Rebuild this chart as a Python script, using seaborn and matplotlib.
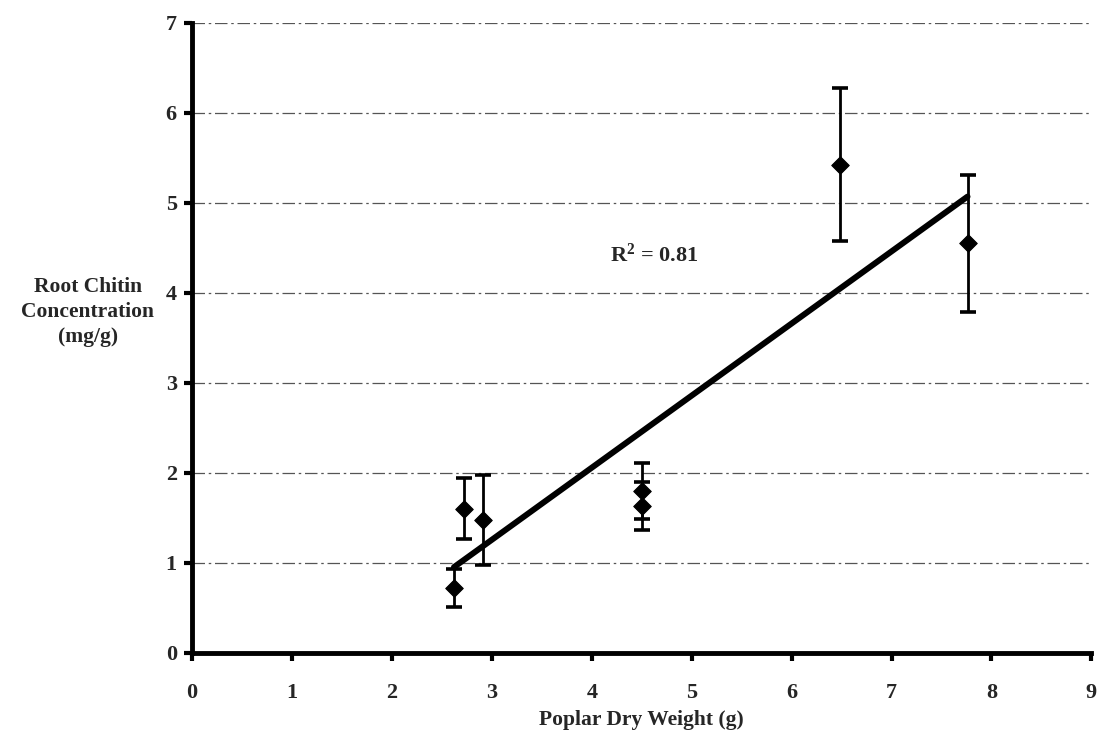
import numpy as np
import pandas as pd
import matplotlib
matplotlib.use("Agg")
import matplotlib.pyplot as plt
import seaborn as sns

# Poplar dry weight (g) vs. root chitin concentration (mg/g), with error bars
dry_weight = [2.62, 2.72, 2.91, 4.50, 4.50, 6.48, 7.76]
chitin = [0.72, 1.60, 1.47, 1.80, 1.63, 5.42, 4.55]
chitin_err = [0.21, 0.34, 0.50, 0.31, 0.27, 0.85, 0.76]
x_ticks = [0, 1, 2, 3, 4, 5, 6, 7, 8, 9]
y_ticks = [0, 1, 2, 3, 4, 5, 6, 7]
r2_label = "R$^2$ = 0.81"

df = pd.DataFrame({"weight": dry_weight, "chitin": chitin, "err": chitin_err})

sns.set_style("white")
plt.rcParams["font.family"] = ["Liberation Serif", "DejaVu Serif"]
plt.rcParams["mathtext.fontset"] = "custom"
plt.rcParams["mathtext.rm"] = "Liberation Serif:bold"
plt.rcParams["mathtext.it"] = "Liberation Serif:bold"
plt.rcParams["mathtext.bf"] = "Liberation Serif:bold"

fig = plt.figure(figsize=(10.98, 7.35), dpi=100)
ax = fig.add_axes([0.175, 0.112, 0.819, 0.857])

# dash-dot horizontal grid
for yv in y_ticks[1:]:
    ax.axhline(yv, color="#555555", lw=0.9, ls=(0, (10, 3, 2, 3)), zorder=0)

# linear fit across the data range
sns.regplot(data=df, x="weight", y="chitin", scatter=False, ci=None,
            truncate=True, color="black", line_kws={"lw": 4.3}, ax=ax)

ax.errorbar(df["weight"], df["chitin"], yerr=df["err"], fmt="none",
            ecolor="black", elinewidth=2.0, capsize=5.5, capthick=2.6, zorder=3)
sns.scatterplot(data=df, x="weight", y="chitin", marker="D", s=80,
                color="black", edgecolor="black", ax=ax, zorder=4)

ax.set_xlim(0, 9)
ax.set_ylim(0, 7)
ax.set_xticks(x_ticks)
ax.set_yticks(y_ticks)
ax.set_xticklabels([str(v) for v in x_ticks], fontsize=16, fontweight="bold")
ax.set_yticklabels([str(v) for v in y_ticks], fontsize=16, fontweight="bold")
ax.tick_params(axis="x", direction="out", length=6, width=3, color="black",
               pad=16, bottom=True)
ax.tick_params(axis="y", direction="out", length=6, width=3, color="black",
               pad=5, left=True)

for side in ["top", "right"]:
    ax.spines[side].set_visible(False)
for side in ["left", "bottom"]:
    ax.spines[side].set_linewidth(3.5)
    ax.spines[side].set_color("black")

ax.set_xlabel("Poplar Dry Weight (g)", fontsize=15.5, fontweight="bold", labelpad=5)
ax.set_ylabel("")
fig.text(0.080, 0.5755, "Root Chitin\nConcentration\n(mg/g)", ha="center",
         va="center", fontsize=15.5, fontweight="bold", linespacing=1.35)

ax.text(4.62, 4.42, r2_label, ha="center", va="center", fontsize=16,
        fontweight="bold")

fig.savefig("out.png", dpi=100)
